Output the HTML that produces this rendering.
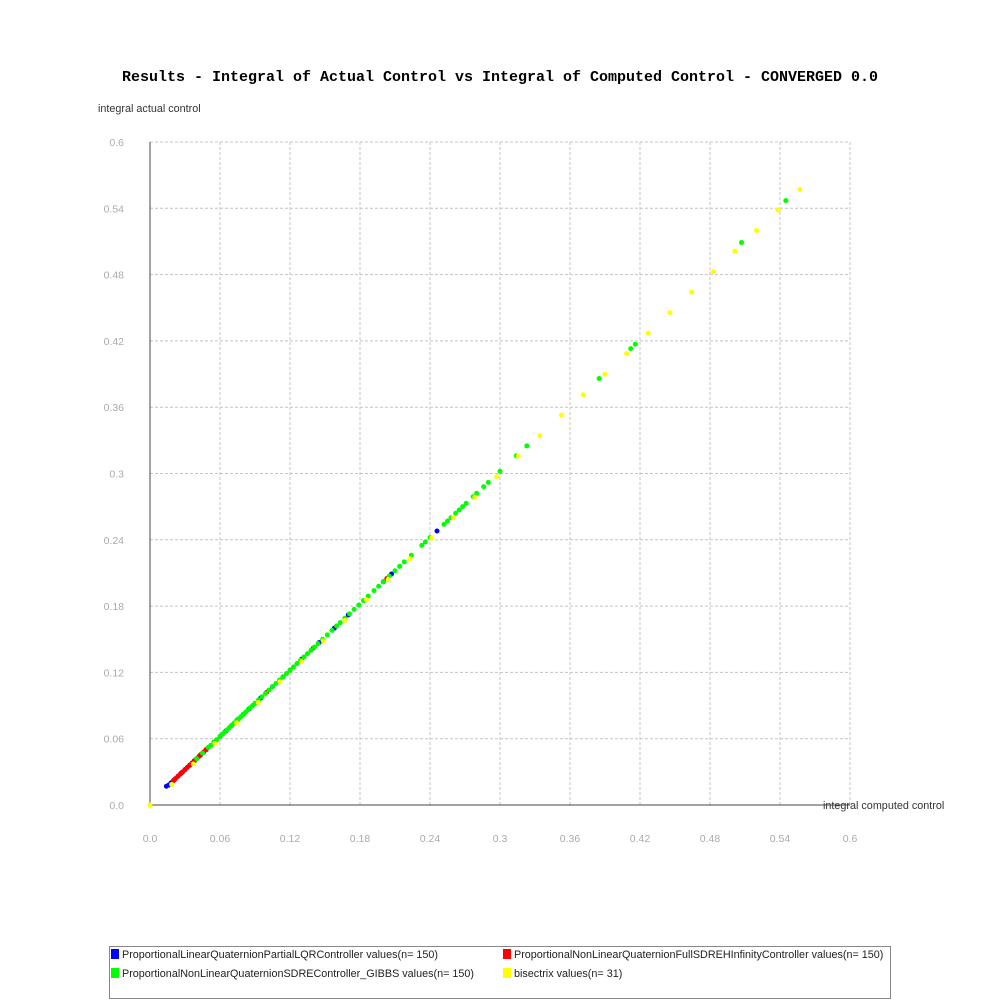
<!DOCTYPE html>
<html><head><meta charset="utf-8"><style>
body{margin:0;background:#fff;}
svg{display:block;font-family:"Liberation Sans","DejaVu Sans",sans-serif;}
</style></head><body>
<svg id="chart" width="1000" height="1000" viewBox="0 0 1000 1000">
<text x="500" y="81" text-anchor="middle" font-family="Liberation Mono, DejaVu Sans Mono, monospace" font-weight="bold" font-size="15" textLength="756" lengthAdjust="spacing">Results - Integral of Actual Control vs Integral of Computed Control - CONVERGED 0.0</text>
<text x="98" y="112" font-size="10.8" fill="#333">integral actual control</text>
<text x="823" y="809" font-size="10.8" fill="#333">integral computed control</text>
<g id="grid"></g>
<g id="ticks"></g>
<line x1="150" y1="142" x2="150" y2="805" stroke="#444" stroke-width="1"/>
<line x1="150" y1="805" x2="850" y2="805" stroke="#444" stroke-width="1"/>
<g id="points"></g>
<g>
<rect x="109.5" y="946.5" width="781" height="52" fill="#fff" stroke="#888"/>
<rect x="111" y="949" width="8" height="10" fill="#0000ff"/>
<text x="122" y="958" font-size="10.8" fill="#222">ProportionalLinearQuaternionPartialLQRController values(n= 150)</text>
<rect x="503" y="949" width="8" height="10" fill="#ff0000"/>
<text x="514" y="958" font-size="10.8" fill="#222">ProportionalNonLinearQuaternionFullSDREHInfinityController values(n= 150)</text>
<rect x="111" y="968" width="8" height="10" fill="#00ff00"/>
<text x="122" y="977" font-size="10.8" fill="#222">ProportionalNonLinearQuaternionSDREController_GIBBS values(n= 150)</text>
<rect x="503" y="968" width="8" height="10" fill="#ffff00"/>
<text x="514" y="977" font-size="10.8" fill="#222">bisectrix values(n= 31)</text>
</g>
</svg>
<script>
const tickValues = [0, 0.06, 0.12, 0.18, 0.24, 0.3, 0.36, 0.42, 0.48, 0.54, 0.6];
const tickLabels = ["0.0","0.06","0.12","0.18","0.24","0.3","0.36","0.42","0.48","0.54","0.6"];
const blueX = [0.014,0.016,0.018,0.021,0.024,0.027,0.03,0.034,0.038,0.043,0.048,0.055,0.065,0.075,0.085,0.095,0.105,0.114,0.13,0.145,0.158,0.17,0.2,0.207,0.246];
const blueY = [0.017,0.018,0.020,0.023,0.026,0.029,0.032,0.036,0.040,0.045,0.050,0.057,0.067,0.077,0.087,0.097,0.107,0.116,0.132,0.147,0.160,0.172,0.202,0.209,0.248];
const redX = [0.02,0.022,0.024,0.026,0.028,0.03,0.032,0.034,0.036,0.038,0.04,0.042,0.044,0.046,0.048,0.05,0.055,0.06,0.07,0.08,0.09,0.1,0.12,0.14,0.16,0.2,0.203];
const redY = [0.022,0.024,0.026,0.028,0.030,0.032,0.034,0.036,0.038,0.040,0.042,0.044,0.046,0.048,0.050,0.052,0.057,0.062,0.072,0.082,0.092,0.102,0.122,0.142,0.162,0.202,0.205];
const greenX = [0.04,0.045,0.05,0.052,0.055,0.057,0.06,0.062,0.064,0.066,0.068,0.07,0.072,0.074,0.076,0.078,0.08,0.082,0.084,0.086,0.088,0.09,0.093,0.096,0.099,0.102,0.105,0.108,0.111,0.114,0.117,0.12,0.123,0.126,0.129,0.132,0.135,0.138,0.141,0.144,0.148,0.152,0.156,0.16,0.163,0.167,0.171,0.175,0.179,0.183,0.187,0.192,0.196,0.2,0.205,0.21,0.214,0.218,0.224,0.233,0.236,0.24,0.252,0.255,0.258,0.262,0.265,0.268,0.271,0.277,0.28,0.286,0.29,0.3,0.314,0.323,0.385,0.412,0.416,0.507,0.545];
const greenY = [0.042,0.047,0.052,0.054,0.057,0.059,0.062,0.064,0.066,0.068,0.070,0.072,0.074,0.076,0.078,0.080,0.082,0.084,0.086,0.088,0.090,0.092,0.095,0.098,0.101,0.104,0.107,0.110,0.113,0.116,0.119,0.122,0.125,0.128,0.131,0.134,0.137,0.140,0.143,0.146,0.150,0.154,0.158,0.162,0.165,0.169,0.173,0.177,0.181,0.185,0.189,0.194,0.198,0.202,0.207,0.212,0.216,0.220,0.226,0.235,0.238,0.242,0.254,0.257,0.260,0.264,0.267,0.270,0.273,0.279,0.282,0.288,0.292,0.302,0.316,0.325,0.386,0.413,0.417,0.509,0.547];
const yellowX = [0,0.0186,0.0371,0.0557,0.0743,0.0928,0.1114,0.13,0.1485,0.1671,0.1857,0.2042,0.2228,0.2414,0.2599,0.2785,0.2971,0.3156,0.3342,0.3528,0.3713,0.3899,0.4085,0.427,0.4456,0.4642,0.4827,0.5013,0.5199,0.5384,0.557];
const yellowY = [0,0.0186,0.0371,0.0557,0.0743,0.0928,0.1114,0.13,0.1485,0.1671,0.1857,0.2042,0.2228,0.2414,0.2599,0.2785,0.2971,0.3156,0.3342,0.3528,0.3713,0.3899,0.4085,0.427,0.4456,0.4642,0.4827,0.5013,0.5199,0.5384,0.557];

const NS = "http://www.w3.org/2000/svg";
function sx(v){ return 150 + v / 0.6 * 700; }
function sy(v){ return 805 - v / 0.6 * 663; }
const grid = document.getElementById('grid');
const ticks = document.getElementById('ticks');
tickValues.forEach((v, i) => {
  if (i > 0) {
    const gv = document.createElementNS(NS, 'line');
    gv.setAttribute('x1', sx(v)); gv.setAttribute('x2', sx(v));
    gv.setAttribute('y1', 142); gv.setAttribute('y2', 805);
    gv.setAttribute('stroke', '#c4c4c4'); gv.setAttribute('stroke-dasharray', '3,2');
    
    
    grid.appendChild(gv);
    const gh = document.createElementNS(NS, 'line');
    gh.setAttribute('x1', 150); gh.setAttribute('x2', 850);
    gh.setAttribute('y1', sy(v)); gh.setAttribute('y2', sy(v));
    gh.setAttribute('stroke', '#c4c4c4'); gh.setAttribute('stroke-dasharray', '3,2');
    
    
    grid.appendChild(gh);
  }
  const tx = document.createElementNS(NS, 'text');
  tx.setAttribute('x', sx(v)); tx.setAttribute('y', 842);
  tx.setAttribute('text-anchor', 'middle'); tx.setAttribute('font-size', '10.5'); tx.setAttribute('fill', '#aaa');
  tx.textContent = tickLabels[i];
  
  
  ticks.appendChild(tx);
  const ty = document.createElementNS(NS, 'text');
  ty.setAttribute('x', 124); ty.setAttribute('y', sy(v) + 4);
  ty.setAttribute('text-anchor', 'end'); ty.setAttribute('font-size', '10.5'); ty.setAttribute('fill', '#aaa');
  ty.textContent = tickLabels[i];
  
  
  ticks.appendChild(ty);
});
const pts = document.getElementById('points');
function drawSeries(xs, ys, color, name) {
  xs.forEach((x, i) => {
    const c = document.createElementNS(NS, 'circle');
    c.setAttribute('cx', sx(x)); c.setAttribute('cy', sy(ys[i]));
    c.setAttribute('r', 2.5); c.setAttribute('fill', color);
    
    
    pts.appendChild(c);
  });
}
drawSeries(blueX, blueY, '#0000ff', 'point-lqr');
drawSeries(redX, redY, '#ff0000', 'point-sdreh');
drawSeries(greenX, greenY, '#00ff00', 'point-gibbs');
drawSeries(yellowX, yellowY, '#ffff00', 'point-bisectrix');
</script>
</body></html>
